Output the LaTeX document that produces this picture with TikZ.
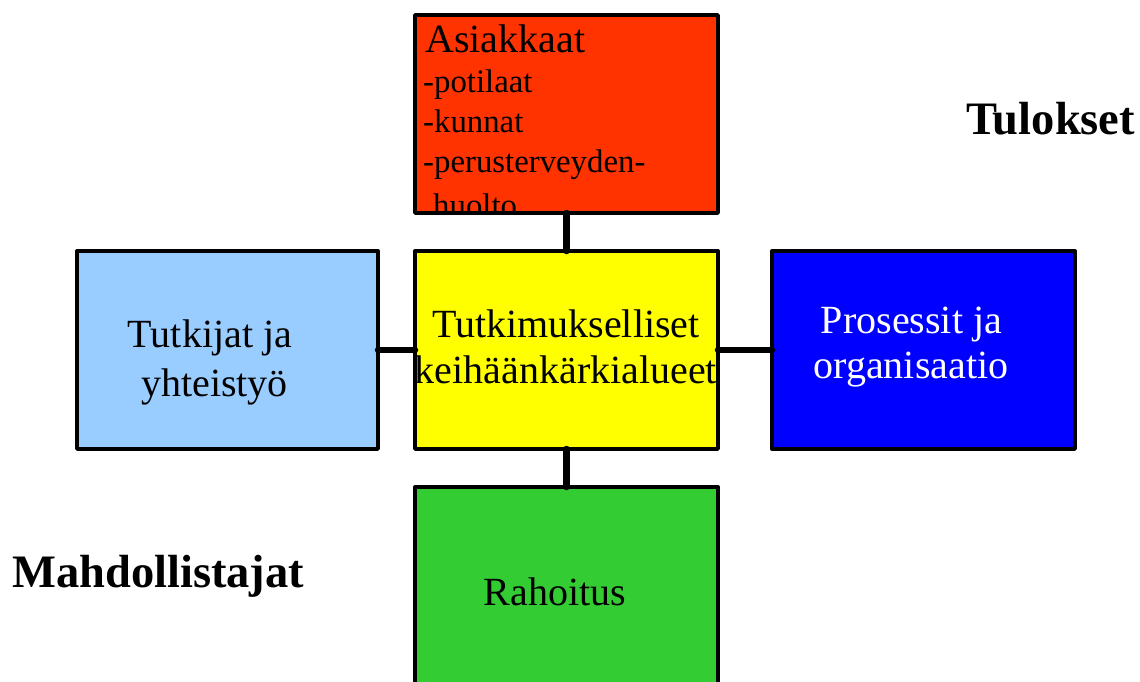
\documentclass[tikz,border=0pt]{standalone}
\usepackage{fontspec}
\setmainfont{Liberation Serif}
\definecolor{custred}{HTML}{FF3300}
\definecolor{coreyellow}{HTML}{FFFF00}
\definecolor{lightblue}{HTML}{99CCFF}
\definecolor{deepblue}{HTML}{0000FF}
\definecolor{fundgreen}{HTML}{33CC33}
\begin{document}
\begin{tikzpicture}[x=1pt,y=-1pt,
  box/.style={draw=black,line width=3.4pt,rectangle,inner sep=0pt,outer sep=0pt,line join=round},
  plainbox/.style={rectangle,inner sep=0pt,outer sep=0pt},
  conn/.style={line width=6.5pt,line cap=round},
  big/.style={inner sep=0pt,anchor=base,font=\fontsize{40}{46}\selectfont},
  lbig/.style={inner sep=0pt,anchor=base west,font=\fontsize{40}{46}\selectfont},
  small/.style={inner sep=0pt,anchor=base west,font=\fontsize{32.8}{40}\selectfont},
  head/.style={inner sep=0pt,anchor=base west,font=\fontsize{46.5}{52}\selectfont\bfseries}]
\useasboundingbox (0,0) rectangle (1140,681);

% boxes
\node[plainbox,fill=custred,minimum width=303pt,minimum height=198pt] (cust) at (566.5,114) {};
\node[box,fill=coreyellow,minimum width=303pt,minimum height=198pt] (core) at (566.5,350) {};
\node[box,fill=lightblue,minimum width=301pt,minimum height=198pt] (res) at (227.5,350) {};
\node[box,fill=deepblue,minimum width=303pt,minimum height=198pt] (proc) at (923.5,350) {};
\node[box,fill=fundgreen,minimum width=303pt,minimum height=220pt] (fund) at (566.5,597) {};

% text of the customer box, clipped to the box
\begin{scope}
  \clip (cust.south west) rectangle (cust.north east);
  \node[lbig] (ta) at (425,52) {Asiakkaat};
  \node[small] (tb) at (423,92) {-potilaat};
  \node[small] (tc) at (423,132) {-kunnat};
  \node[small] (td) at (423,172) {-perusterveyden-};
  \node[small] (te) at (433,216) {huolto};
\end{scope}
\draw[line width=3.4pt,line join=round] (cust.south west) rectangle (cust.north east);

% connectors
\draw[conn] (cust.south) -- (core.north);
\draw[conn] (res.east) -- (core.west);
\draw[conn] (core.east) -- (proc.west);
\draw[conn] (core.south) -- (fund.north);

% texts
\node[big] (c1) at (566,337) {Tutkimukselliset};
\node[big] (c2) at (566,383) {keihäänkärkialueet};
\node[big] (r1) at (210,347) {Tutkijat ja};
\node[big] (r2) at (214.5,396) {yhteistyö};
\node[big,text=white] (p1) at (911.5,333) {Prosessit ja};
\node[big,text=white] (p2) at (911,378) {organisaatio};
\node[big] (f1) at (555,605) {Rahoitus};
\node[head] (h1) at (966,134) {Tulokset};
\node[head] (h2) at (12,587) {Mahdollistajat};
\end{tikzpicture}
\end{document}
